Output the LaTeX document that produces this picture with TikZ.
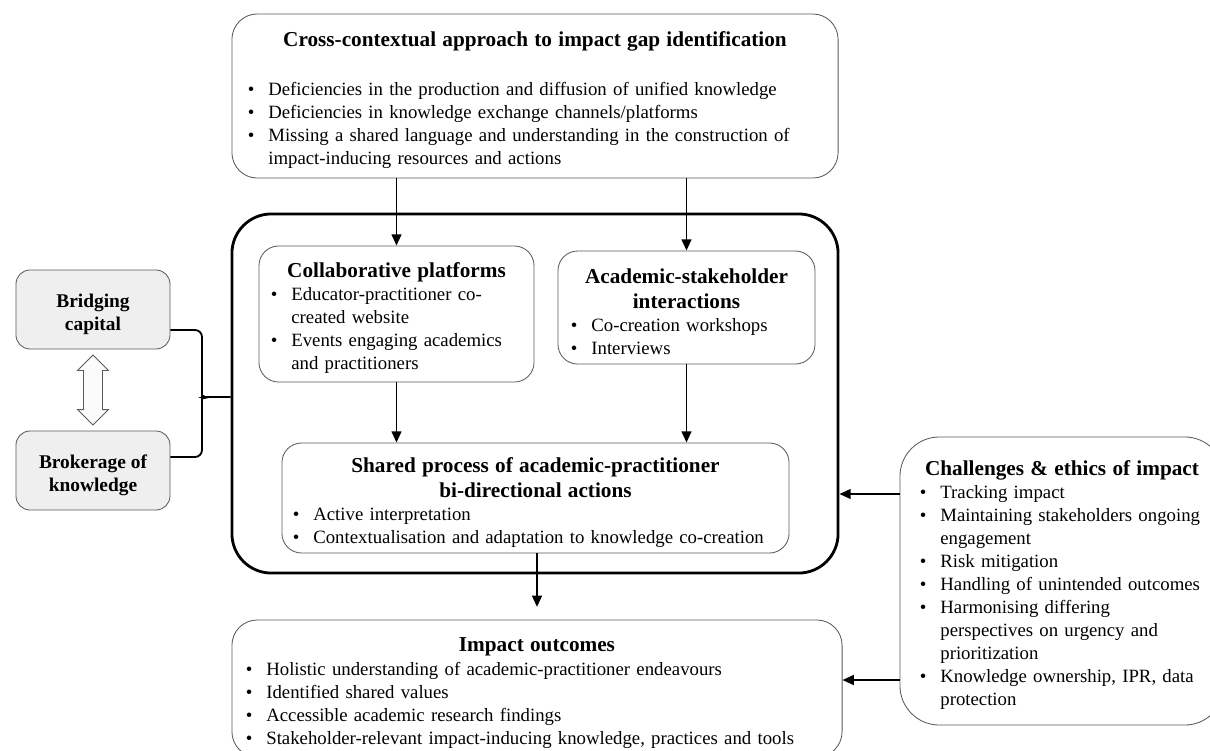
\documentclass[tikz,border=0pt]{standalone}
\usepackage{fontspec}
\setmainfont{Liberation Serif}
\usetikzlibrary{arrows.meta,shapes.arrows}
\definecolor{boxline}{HTML}{5A5A5A}
\definecolor{boxfill}{HTML}{EFEFEF}
\newlength{\bulw}\setlength{\bulw}{14.5pt}
\newcommand{\itm}[1]{\par\noindent\hangindent=\bulw\hangafter=1\makebox[\bulw][l]{\textbullet}#1\par}
\newcommand{\boxhead}[1]{{\centering\fontsize{15.1pt}{17.8pt}\selectfont\bfseries\rule{0pt}{16.5pt}#1\par}}
\begin{document}
\begin{tikzpicture}[x=0.025cm,y=-0.025cm]
    \tikzstyle{every node}=[font=\fontsize{13.35pt}{16.4pt}\selectfont, text=black]
    \tikzstyle{box}=[draw=boxline, line width=0.6pt, rounded corners=14pt, align=left, inner sep=0pt]
    \tikzstyle{side}=[box, fill=boxfill, align=center, font=\fontsize{13.8pt}{16.4pt}\selectfont\bfseries, minimum width=3.85cm, minimum height=1.975cm, rounded corners=10pt]
    \tikzstyle{arr}=[line width=1.3pt, -{Triangle[length=8pt,width=7pt]}]
    \tikzstyle{brace}=[line width=1.3pt, rounded corners=5pt]
    \clip (0,0) rectangle (1210,750);

    \node[box, minimum width=15.15cm, minimum height=4.1cm, rounded corners=18pt, text width=14.35cm] (gap) at (535,96) {\boxhead{Cross-contextual approach to impact gap identification}\vspace{18pt}
        \itm{Deficiencies in the production and diffusion of unified knowledge}
        \itm{Deficiencies in knowledge exchange channels/platforms}
        \itm{Missing a shared language and understanding in the construction of\newline impact-inducing resources and actions}};

    \node[draw, line width=2pt, rounded corners=28pt, minimum width=15.15cm, minimum height=8.975cm] (core) at (535,393.5) {};

    \node[box, minimum width=6.875cm, minimum height=3.4cm, text width=6.275cm] (collab) at (396.5,314) {\boxhead{Collaborative platforms}
        \itm{Educator-practitioner co-\newline created website}
        \itm{Events engaging academics\newline and practitioners}};
    \node[box, minimum width=6.425cm, minimum height=2.825cm, text width=5.775cm] (acad) at (686.5,307.5) {\boxhead{Academic-stakeholder\\interactions}
        \itm{Co-creation workshops}
        \itm{Interviews}};
    \node[box, minimum width=12.675cm, minimum height=2.75cm, text width=12.125cm] (shared) at (535.5,498) {\boxhead{Shared process of academic-practitioner\\bi-directional actions}
        \itm{Active interpretation}
        \itm{Contextualisation and adaptation to knowledge co-creation}};

    \node[side] (bridge) at (93,309.5) {\rule{0pt}{16pt}Bridging\\capital};
    \node[side] (broker) at (93,470.5) {\rule{0pt}{16pt}Brokerage of\\knowledge};
    \node[draw=boxline, fill=white!97!gray, line width=0.6pt, double arrow, rotate=90, double arrow tip angle=90, minimum height=1.75cm, inner xsep=0pt, inner ysep=0.225cm, double arrow head extend=0.15cm] (link) at (93,390) {};

    \node[box, minimum width=8.1cm, minimum height=7.2cm, rounded corners=28pt, text width=7.1cm] (chal) at (1062,581) {\boxhead{Challenges \& ethics of impact}
        \itm{Tracking impact}
        \itm{Maintaining stakeholders ongoing\newline engagement}
        \itm{Risk mitigation}
        \itm{Handling of unintended outcomes}
        \itm{Harmonising differing\newline perspectives on urgency and\newline prioritization}
        \itm{Knowledge ownership, IPR, data\newline protection}};

    \node[box, minimum width=15.25cm, minimum height=3.425cm, rounded corners=18pt, text width=14.55cm] (outcome) at (537,688.5) {\boxhead{Impact outcomes}
        \itm{Holistic understanding of academic-practitioner endeavours}
        \itm{Identified shared values}
        \itm{Accessible academic research findings}
        \itm{Stakeholder-relevant impact-inducing knowledge, practices and tools}};

    \draw[arr] (gap.south -| collab.north) -- (collab.north);
    \draw[arr] (gap.south -| acad.north) -- (acad.north);
    \draw[arr] (collab.south) -- (collab.south |- shared.north);
    \draw[arr] (acad.south) -- (acad.south |- shared.north);
    \draw[arr, shorten >=9pt] (shared.south -| outcome.north) -- (outcome.north);
    \draw[arr] (chal.west |- 0,494) -- (core.east |- 0,494);
    \draw[arr] (chal.west |- 0,680) -- (outcome.east |- 0,680);

    \coordinate (tip) at (core.west |- 0,397);
    \draw[brace] (bridge.east |- 0,330) -- (202,330) -- (202,390) to[out=-90,in=180] (210,397) -- (tip);
    \draw[brace] (broker.east |- 0,457) -- (202,457) -- (202,404) to[out=90,in=180] (210,397);
\end{tikzpicture}
\end{document}
